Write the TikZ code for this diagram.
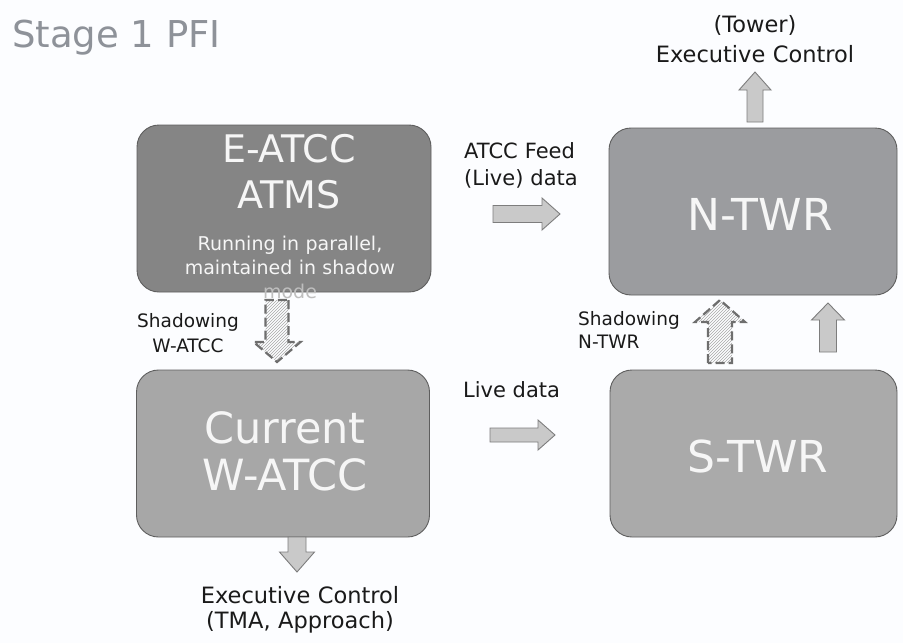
\documentclass[tikz,border=0pt]{standalone}
\usepackage{fontspec}
\setmainfont{DejaVu Sans}
\usetikzlibrary{patterns}
\definecolor{bgc}{HTML}{FCFDFF}
\definecolor{titlec}{HTML}{8E9299}
\definecolor{boxline}{HTML}{5E5E5E}
\definecolor{eatccfill}{HTML}{858585}
\definecolor{ntwrfill}{HTML}{9B9C9F}
\definecolor{watccfill}{HTML}{A7A7A7}
\definecolor{stwrfill}{HTML}{AAAAAA}
\definecolor{boxtxt}{HTML}{F6F6F6}
\definecolor{modec}{HTML}{BEBEBE}
\definecolor{arrfill}{HTML}{C9C9C9}
\definecolor{arrline}{HTML}{7D7D7D}
\definecolor{dashc}{HTML}{6E6E6E}
\definecolor{hatchc}{HTML}{A8A8A8}
\definecolor{lblc}{HTML}{1A1A1A}
\newcommand{\myfs}[2]{\fontsize{#1}{#2}\selectfont}
\newcommand{\blkarrow}[8]{%
  \begin{scope}[shift={(#2,#3)},rotate=#4]
    \path[#1] ({-(#5)/2},{-(#6)/2}) -- ({(#5)/2-(#8)},{-(#6)/2}) -- ({(#5)/2-(#8)},{-(#7)/2}) -- ({(#5)/2},0) -- ({(#5)/2-(#8)},{(#7)/2}) -- ({(#5)/2-(#8)},{(#6)/2}) -- ({-(#5)/2},{(#6)/2}) -- cycle;
  \end{scope}}
\begin{document}
\begin{tikzpicture}[x=1pt,y=-1pt,
  box/.style={draw=boxline,line width=0.9pt,rounded corners=22pt,inner sep=0pt},
  btxt/.style={text=boxtxt,inner sep=0pt},
  lbl/.style={text=lblc,inner sep=0pt},
  solidarr/.style={fill=arrfill,draw=arrline,line width=0.9pt},
  dasharr/.style={preaction={fill=bgc},pattern=north east lines,pattern color=hatchc,draw=dashc,line width=2.2pt,dash pattern=on 9pt off 4pt}]
\fill[bgc] (0,0) rectangle (903,643);
\useasboundingbox (0,0) rectangle (903,643);

\node[anchor=base west,inner sep=0pt,text=titlec,font=\myfs{37}{40}] (title) at (12,47) {Stage 1 PFI};

% boxes
\node[box,fill=eatccfill,minimum width=294pt,minimum height=167pt] (eatcc) at (284,208.5) {};
\node[btxt,anchor=base,text width=280pt,align=center,font=\myfs{38}{46}] (eatcctitle) at (289,162) {E-ATCC\\ATMS};
\node[btxt,anchor=base,text width=280pt,align=center,font=\myfs{19}{24}] (eatccsub) at (290,250) {Running in parallel,\\maintained in shadow\\\textcolor{modec}{mode}};

\node[box,fill=watccfill,minimum width=293pt,minimum height=167pt] (watcc) at (283,453.5) {};
\node[btxt,anchor=base,text width=280pt,align=center,font=\myfs{43}{47}] (watcctext) at (285,443) {Current\\W-ATCC};

\node[box,fill=ntwrfill,minimum width=288pt,minimum height=167pt] (ntwr) at (753,211.5) {};
\node[btxt,anchor=base,font=\myfs{44}{50}] (ntwrtext) at (760,230) {N-TWR};

\node[box,fill=stwrfill,minimum width=287pt,minimum height=167pt] (stwr) at (753.5,453.5) {};
\node[btxt,anchor=base,font=\myfs{44}{50}] (stwrtext) at (758,472) {S-TWR};

% labels
\node[lbl,anchor=base,text width=260pt,align=center,font=\myfs{22.5}{30}] (tower) at (755,32) {(Tower)\\Executive Control};
\node[lbl,anchor=base,text width=260pt,align=center,font=\myfs{22.5}{25.5}] (tma) at (300,603) {Executive Control\\(TMA, Approach)};
\node[lbl,anchor=base west,text width=140pt,align=left,font=\myfs{21}{27}] (feed) at (464,158) {ATCC Feed\\(Live) data};
\node[lbl,anchor=base west,font=\myfs{21}{25}] (live) at (463,397) {Live data};
\node[lbl,anchor=base,text width=130pt,align=center,font=\myfs{18.5}{25}] (shw) at (188,327) {Shadowing\\W-ATCC};
\node[lbl,anchor=base west,text width=120pt,align=left,font=\myfs{18.5}{23}] (shn) at (578,325) {Shadowing\\N-TWR};

% block arrows
\blkarrow{solidarr}{755}{97}{90}{50}{16}{32}{18}
\blkarrow{solidarr}{297}{554.5}{-90}{35}{18}{35}{20}
\blkarrow{solidarr}{526.5}{214}{0}{67}{17}{32}{18}
\blkarrow{solidarr}{522.5}{435}{0}{65}{14}{30}{17}
\blkarrow{solidarr}{828}{327.5}{90}{49}{17}{33}{17}
\blkarrow{dasharr}{720}{331.5}{90}{63}{24}{50}{22}
\blkarrow{dasharr}{277}{331}{-90}{62}{23}{47}{20}
\end{tikzpicture}
\end{document}
